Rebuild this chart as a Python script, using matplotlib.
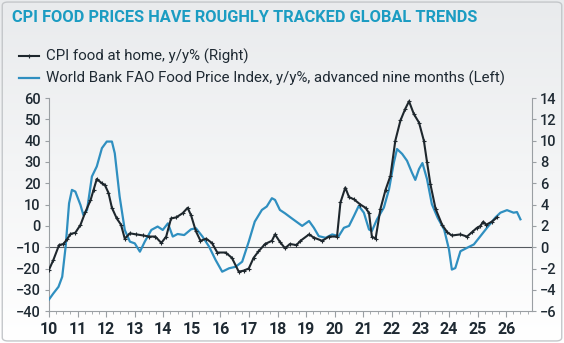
import numpy as np
import matplotlib
matplotlib.use("Agg")
import matplotlib.pyplot as plt
from matplotlib.patches import FancyBboxPatch
from matplotlib.lines import Line2D

# CPI food at home, y/y % (right axis)
cpi_x = [2010.0, 2010.15, 2010.35, 2010.5, 2010.63, 2010.75, 2010.92, 2011.1, 2011.27,
         2011.45, 2011.56, 2011.67, 2011.85, 2011.96, 2012.08, 2012.2, 2012.37, 2012.52,
         2012.65, 2012.83, 2013.06, 2013.3, 2013.5, 2013.72, 2013.93, 2014.1, 2014.27,
         2014.45, 2014.68, 2014.85, 2014.97, 2015.14, 2015.3, 2015.5, 2015.7, 2015.89,
         2016.18, 2016.4, 2016.64, 2016.81, 2016.99, 2017.16, 2017.33, 2017.56, 2017.8,
         2017.91, 2018.08, 2018.26, 2018.43, 2018.66, 2018.8, 2019.1, 2019.27, 2019.56,
         2019.8, 2020.08, 2020.2, 2020.37, 2020.5, 2020.67, 2020.9, 2021.08, 2021.2,
         2021.3, 2021.43, 2021.6, 2021.78, 2021.95, 2022.12, 2022.3, 2022.47, 2022.6,
         2022.77, 2022.95, 2023.12, 2023.23, 2023.35, 2023.53, 2023.76, 2023.94, 2024.1,
         2024.4, 2024.63, 2024.8, 2024.97, 2025.1, 2025.2, 2025.3, 2025.5, 2025.68]
cpi_y = [-2.1, -1.2, 0.2, 0.3, 0.74, 1.24, 1.36, 2.1, 3.3,
         4.4, 5.4, 6.4, 6.0, 5.8, 5.1, 3.7, 2.7, 2.1,
         0.8, 1.3, 1.2, 1.1, 1.0, 1.0, 0.4, 1.0, 2.7,
         2.8, 3.2, 3.7, 3.0, 1.5, 0.6, 0.8, 0.4, -0.5,
         -0.5, -1.0, -2.3, -2.2, -2.0, -1.0, -0.4, 0.3, 0.6,
         1.2, 0.5, -0.1, 0.3, 0.2, 0.6, 1.2, 0.9, 0.6,
         1.0, 1.0, 4.2, 5.6, 4.7, 4.5, 4.0, 3.7, 3.2,
         1.0, 0.8, 3.6, 5.4, 6.7, 10.0, 11.9, 13.0, 13.7,
         12.5, 11.7, 10.0, 8.0, 5.9, 3.6, 2.1, 1.4, 1.1,
         1.2, 1.0, 1.4, 1.8, 2.0, 2.4, 2.1, 2.4, 2.8]

# World Bank FAO Food Price Index, y/y %, advanced nine months (left axis)
fao_x = [2010.0, 2010.15, 2010.33, 2010.46, 2010.58, 2010.7, 2010.8, 2010.92, 2011.1,
         2011.2, 2011.33, 2011.5, 2011.67, 2011.85, 2012.02, 2012.2, 2012.3, 2012.47,
         2012.65, 2012.83, 2013.0, 2013.18, 2013.35, 2013.58, 2013.8, 2013.98, 2014.16,
         2014.33, 2014.5, 2014.73, 2014.97, 2015.14, 2015.37, 2015.6, 2015.83, 2016.06,
         2016.3, 2016.53, 2016.76, 2016.99, 2017.2, 2017.45, 2017.62, 2017.8, 2017.91,
         2018.08, 2018.26, 2018.49, 2018.86, 2019.1, 2019.27, 2019.44, 2019.68, 2019.91,
         2020.14, 2020.32, 2020.5, 2020.67, 2020.84, 2021.02, 2021.2, 2021.3, 2021.48,
         2021.72, 2021.9, 2022.07, 2022.18, 2022.36, 2022.53, 2022.7, 2022.82, 2022.95,
         2023.07, 2023.23, 2023.4, 2023.6, 2023.83, 2024.0, 2024.1, 2024.22, 2024.4,
         2024.63, 2024.87, 2025.1, 2025.33, 2025.62, 2025.8, 2026.03, 2026.26, 2026.38,
         2026.5]
fao_y = [-34.5, -31.7, -28.6, -23.9, -9.7, 10.6, 16.9, 16.1, 9.8,
         5.1, 7.5, 23.2, 27.9, 36.5, 39.6, 39.6, 34.1, 13.8,
         -1.9, -7.4, -8.2, -12.1, -7.4, -1.9, -0.3, -1.9, 1.2,
         -5.0, -3.8, -4.3, -1.6, -1.1, -5.0, -9.7, -16.0, -21.5,
         -19.9, -19.2, -16.8, -7.4, 2.0, 7.5, 9.1, 13.0, 12.2,
         7.5, 5.9, 3.6, 0.0, 2.3, -0.9, -4.8, -5.6, -4.0,
         -4.8, -0.9, 0.0, 4.6, 9.4, 6.2, -1.7, -2.4, 3.1,
         8.6, 17.2, 29.8, 36.1, 33.8, 30.6, 25.1, 21.6, 26.7,
         29.5, 22.0, 10.2, 3.9, -1.7, -11.1, -20.5, -19.8, -11.9,
         -10.3, -8.7, -4.8, -0.9, 3.9, 6.2, 7.4, 6.2, 6.5,
         3.1]

years = list(range(2010, 2027))
year_labels = [str(y)[2:] for y in years]

TITLE = "CPI FOOD PRICES HAVE ROUGHLY TRACKED GLOBAL TRENDS"
TITLE_COLOR = "#1b9cc2"
BLUE = "#2f8fc0"
DARK = "#1e272d"
TXT = "#1f2a33"
SPINE = "#9a9fa3"

plt.rcParams["font.family"] = ["Roboto", "DejaVu Sans"]

fig = plt.figure(figsize=(5.64, 3.43), dpi=100)

# background gradient
bg = fig.add_axes([0, 0, 1, 1], zorder=-10)
grad = np.linspace(0, 1, 256).reshape(-1, 1)
cmap = matplotlib.colors.LinearSegmentedColormap.from_list("bg", ["#e9ebed", "#ffffff"])
bg.imshow(grad, aspect="auto", cmap=cmap, extent=[0, 1, 0, 1])
bg.axis("off")
fig.patches.append(FancyBboxPatch((0.004, 0.006), 0.992, 0.988, boxstyle="round,pad=0,rounding_size=0.01",
                                  transform=fig.transFigure, fill=False, edgecolor="#c4c7ca", lw=1.0))

ax = fig.add_axes([0.087, 0.093, 0.856, 0.621])
ax.patch.set_alpha(0)
ax2 = ax.twinx()

ax.plot(fao_x, fao_y, color=BLUE, lw=1.6, zorder=3)
ax.axhline(-10, color="#555b60", lw=0.8, zorder=1)
ax2.plot(cpi_x, cpi_y, color=DARK, lw=1.5, marker="+", ms=3, mew=0.8, zorder=4)

ax.set_xlim(2010, 2026.9)
ax.set_ylim(-40, 60)
ax.set_yticks(range(-40, 61, 10))
ax2.set_ylim(-6, 14)
ax2.set_yticks(range(-6, 15, 2))

ax.set_xticks(years)
ax.set_xticklabels(year_labels)
ax.set_xticks(np.arange(2010, 2027, 0.25), minor=True)

for a in (ax, ax2):
    a.spines["top"].set_visible(False)
    for s in ("left", "right", "bottom"):
        a.spines[s].set_color(SPINE)
        a.spines[s].set_linewidth(0.8)
ax.spines["right"].set_visible(False)
ax2.spines["left"].set_visible(False)
ax2.spines["bottom"].set_visible(False)

ax.tick_params(axis="y", colors=SPINE, labelcolor=TXT, labelsize=10.5, length=3, pad=3)
ax2.tick_params(axis="y", colors=SPINE, labelcolor=TXT, labelsize=10.5, length=3, pad=3)
ax.tick_params(axis="x", which="major", colors=SPINE, labelcolor=TXT, labelsize=11.5, length=4, pad=4)
ax.tick_params(axis="x", which="minor", colors=SPINE, length=2.5)
for lab in ax.get_xticklabels():
    lab.set_fontweight("bold")
for lab in ax.get_yticklabels() + ax2.get_yticklabels():
    lab.set_fontweight("medium")

fig.text(0.021, 0.948, TITLE, color=TITLE_COLOR, fontsize=11.8, fontweight="bold", va="center")

handles = [Line2D([], [], color=DARK, lw=1.5, marker="+", ms=3, mew=0.8),
           Line2D([], [], color=BLUE, lw=1.6)]
labels = ["CPI food at home, y/y% (Right)",
          "World Bank FAO Food Price Index, y/y%, advanced nine months (Left)"]
fig.legend(handles, labels, loc="upper left", bbox_to_anchor=(0.034, 0.857), frameon=False,
           fontsize=10.85, handlelength=1.3, handletextpad=0.45, labelspacing=0.45,
           borderpad=0, borderaxespad=0, labelcolor=TXT)

fig.savefig("out.png", dpi=100)
